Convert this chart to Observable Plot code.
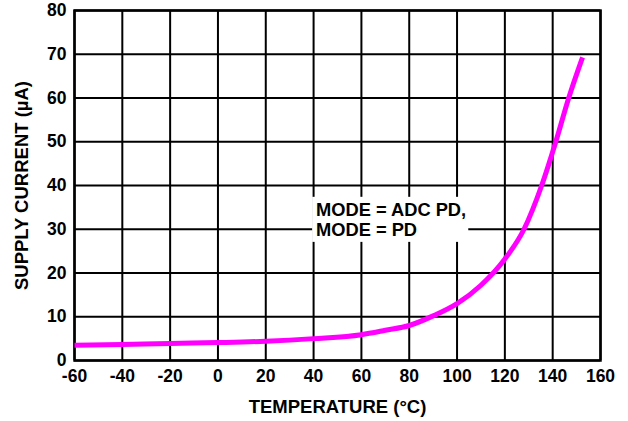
<!DOCTYPE html>
<html>
<head>
<meta charset="utf-8">
<script src="https://cdn.jsdelivr.net/npm/d3@7"></script>
<script src="https://cdn.jsdelivr.net/npm/@observablehq/plot@0.6"></script>
<style>
  html, body { margin: 0; padding: 0; background: white; }
</style>
</head>
<body>
<div id="chart"></div>
<script>
const temperature = [-60, -40, -20, 0, 20, 40, 60, 70, 80, 90, 100, 110, 120, 128, 135.4, 141.3, 146.7, 152.5];
const supplyCurrent = [3.5, 3.66, 3.9, 4.1, 4.4, 5.0, 5.9, 6.9, 8.0, 10.2, 13.0, 17.2, 23.2, 30, 40, 50, 60, 69.3];
const xTicks = [-60, -40, -20, 0, 20, 40, 60, 80, 100, 120, 140, 160];
const yTicks = [0, 10, 20, 30, 40, 50, 60, 70, 80];
const xTitle = "TEMPERATURE (°C)";
const yTitle = "SUPPLY CURRENT (µA)";
const noteText = "MODE = ADC PD,\nMODE = PD";
const notePos = {x: 41, y: 36.4};
const noteBox = {x1: 39.6, x2: 104.9, y1: 27.0, y2: 37.3};

const data = temperature.map((t, i) => ({t, c: supplyCurrent[i]}));
const font = "Liberation Sans, Arial, Helvetica, sans-serif";

const chart = Plot.plot({
  width: 628,
  height: 421,
  marginLeft: 74,
  marginRight: 28,
  marginTop: 10,
  marginBottom: 61,
  style: {fontFamily: font, fontSize: "17px", fontWeight: "bold", color: "black", background: "white", overflow: "visible"},
  x: {domain: [-60, 160]},
  y: {domain: [0, 80]},
  marks: [
    Plot.ruleX(xTicks, {stroke: "black", strokeWidth: 2}),
    Plot.ruleY(yTicks, {stroke: "black", strokeWidth: 2}),
    Plot.rect([noteBox], {x1: "x1", x2: "x2", y1: "y1", y2: "y2", fill: "white"}),
    Plot.frame({stroke: "black", strokeWidth: 2.5}),
    Plot.axisX(xTicks, {tickSize: 0, tickPadding: 9, fontSize: 17.5, fontWeight: "bold", label: null, tickFormat: d => String(d)}),
    Plot.axisY(yTicks, {tickSize: 0, tickPadding: 8, fontSize: 17.5, fontWeight: "bold", label: null, tickFormat: d => String(d)}),
    Plot.text([xTitle], {frameAnchor: "bottom", dy: 47, text: d => d, fontSize: 18.5, fontWeight: "bold", lineAnchor: "middle", textAnchor: "middle"}),
    Plot.text([yTitle], {frameAnchor: "left", dx: -52, rotate: -90, text: d => d, fontSize: 18.5, fontWeight: "bold", lineAnchor: "middle", textAnchor: "middle"}),
    Plot.text([notePos], {x: "x", y: "y", text: () => noteText, textAnchor: "start", lineAnchor: "top", fontSize: 18.3, fontWeight: "bold", lineHeight: 1.1}),
    Plot.line(data, {x: "t", y: "c", stroke: "#ff00ff", strokeWidth: 5, curve: "monotone-x", strokeLinecap: "butt"})
  ]
});
document.getElementById("chart").appendChild(chart);
</script>
</body>
</html>
